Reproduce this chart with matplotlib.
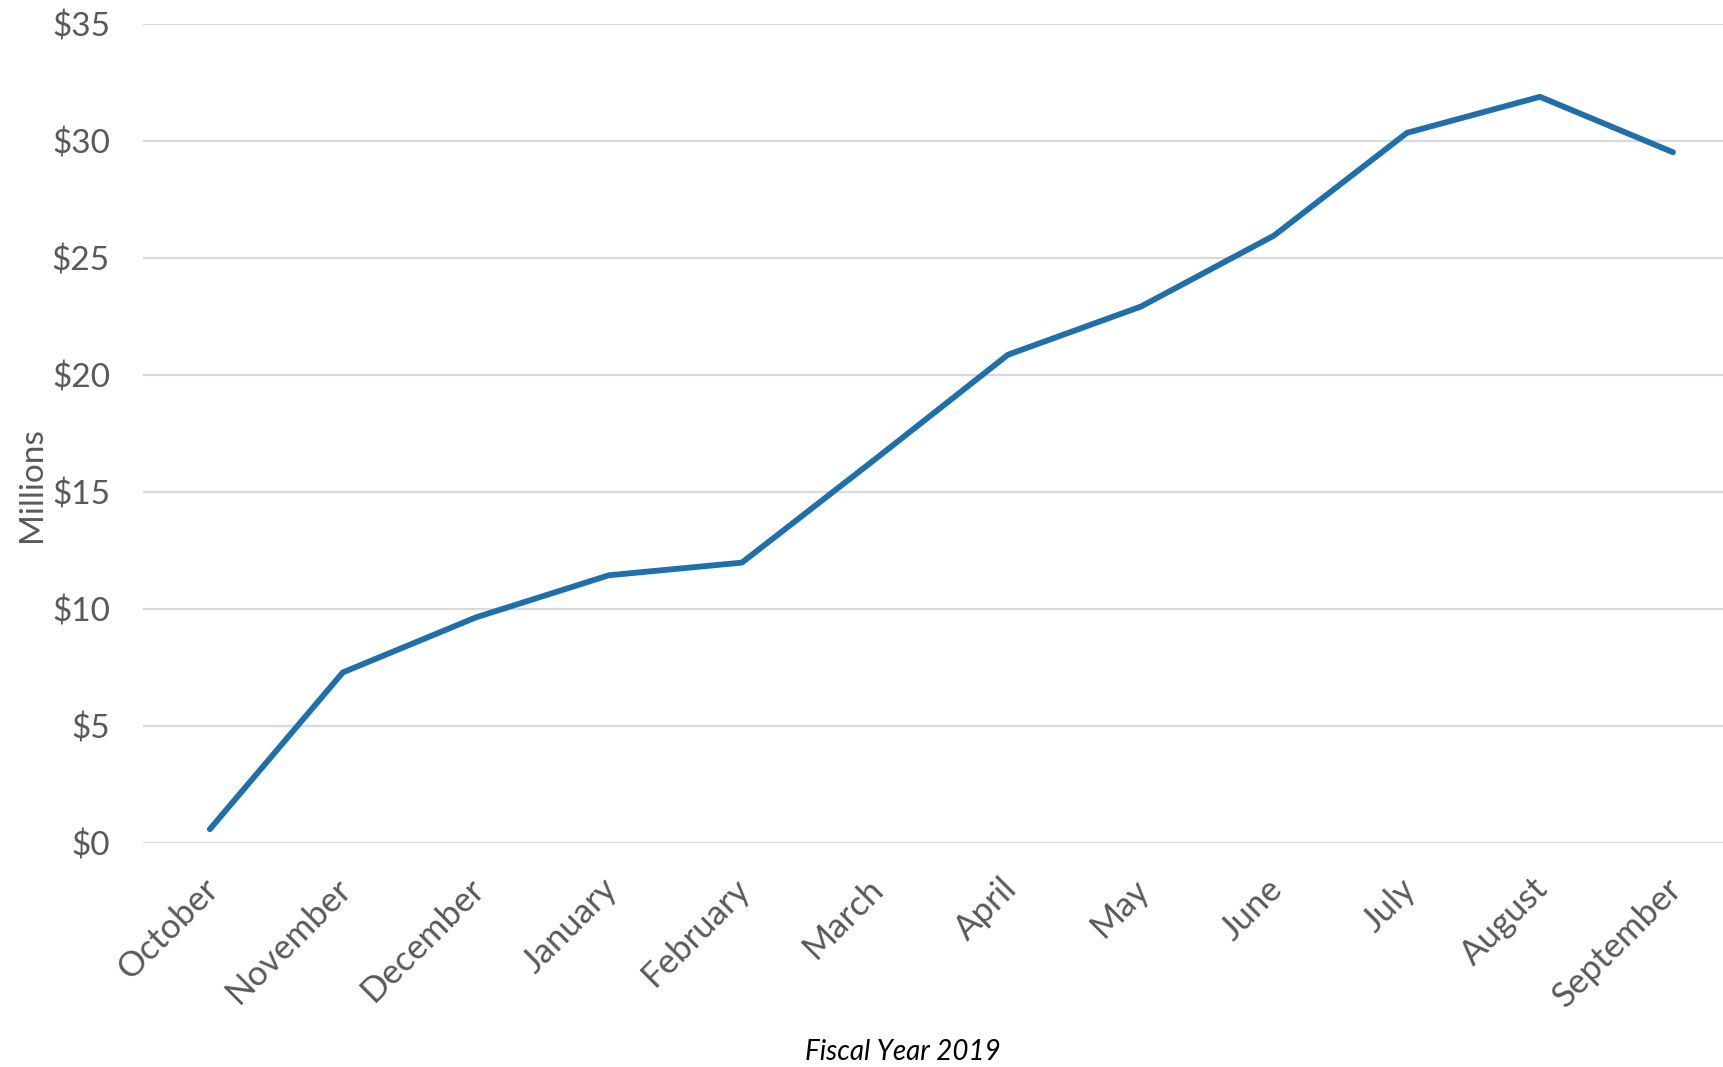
import matplotlib
matplotlib.use("Agg")
import matplotlib.pyplot as plt
from matplotlib.ticker import FuncFormatter
from matplotlib.transforms import ScaledTranslation

months = ["October", "November", "December", "January", "February", "March",
          "April", "May", "June", "July", "August", "September"]
values = [0.60, 7.30, 9.65, 11.45, 11.99, 16.4, 20.87, 22.93, 25.96, 30.35, 31.89, 29.52]
yticks = [0, 5, 10, 15, 20, 25, 30, 35]

plt.rcParams['font.family'] = ['Lato', 'DejaVu Sans']
TEXT = '#595959'

fig = plt.figure(figsize=(17.24, 10.67), dpi=100)
ax = fig.add_axes([143.3 / 1724, 1 - 843.3 / 1067, (1739.5 - 143.3) / 1724, (843.3 - 24) / 1067])

x = list(range(len(months)))
ax.plot(x, values, color='#1F70AA', linewidth=4.2, solid_capstyle='round', solid_joinstyle='round', zorder=3)

ax.set_xlim(-0.5, len(months) - 0.5)
ax.set_ylim(0, 35)
ax.set_yticks(yticks)
ax.yaxis.set_major_formatter(FuncFormatter(lambda v, p: f"${v:.0f}"))
ax.grid(axis='y', color='#D9D9D9', linewidth=1.6)
ax.set_axisbelow(True)
for s in ax.spines.values():
    s.set_visible(False)

ax.set_xticks(x)
ax.set_xticklabels(months, rotation=45, ha='right', rotation_mode='anchor')
ax.tick_params(axis='x', length=0, pad=21, labelsize=25, labelcolor=TEXT)
ax.tick_params(axis='y', length=0, pad=24, labelsize=24, labelcolor=TEXT)
shift = ScaledTranslation(-0.08, 0, fig.dpi_scale_trans)
for lbl in ax.get_xticklabels():
    lbl.set_transform(lbl.get_transform() + shift)

fig.text(32 / 1724, 1 - 485 / 1067, "Millions", rotation=90, ha='center', va='center',
         fontsize=24, color=TEXT)
fig.text(903 / 1724, 1 - 1052 / 1067, "Fiscal Year 2019", ha='center', va='center',
         fontsize=20, style='italic', color='black')

fig.savefig("out.png", dpi=100)
